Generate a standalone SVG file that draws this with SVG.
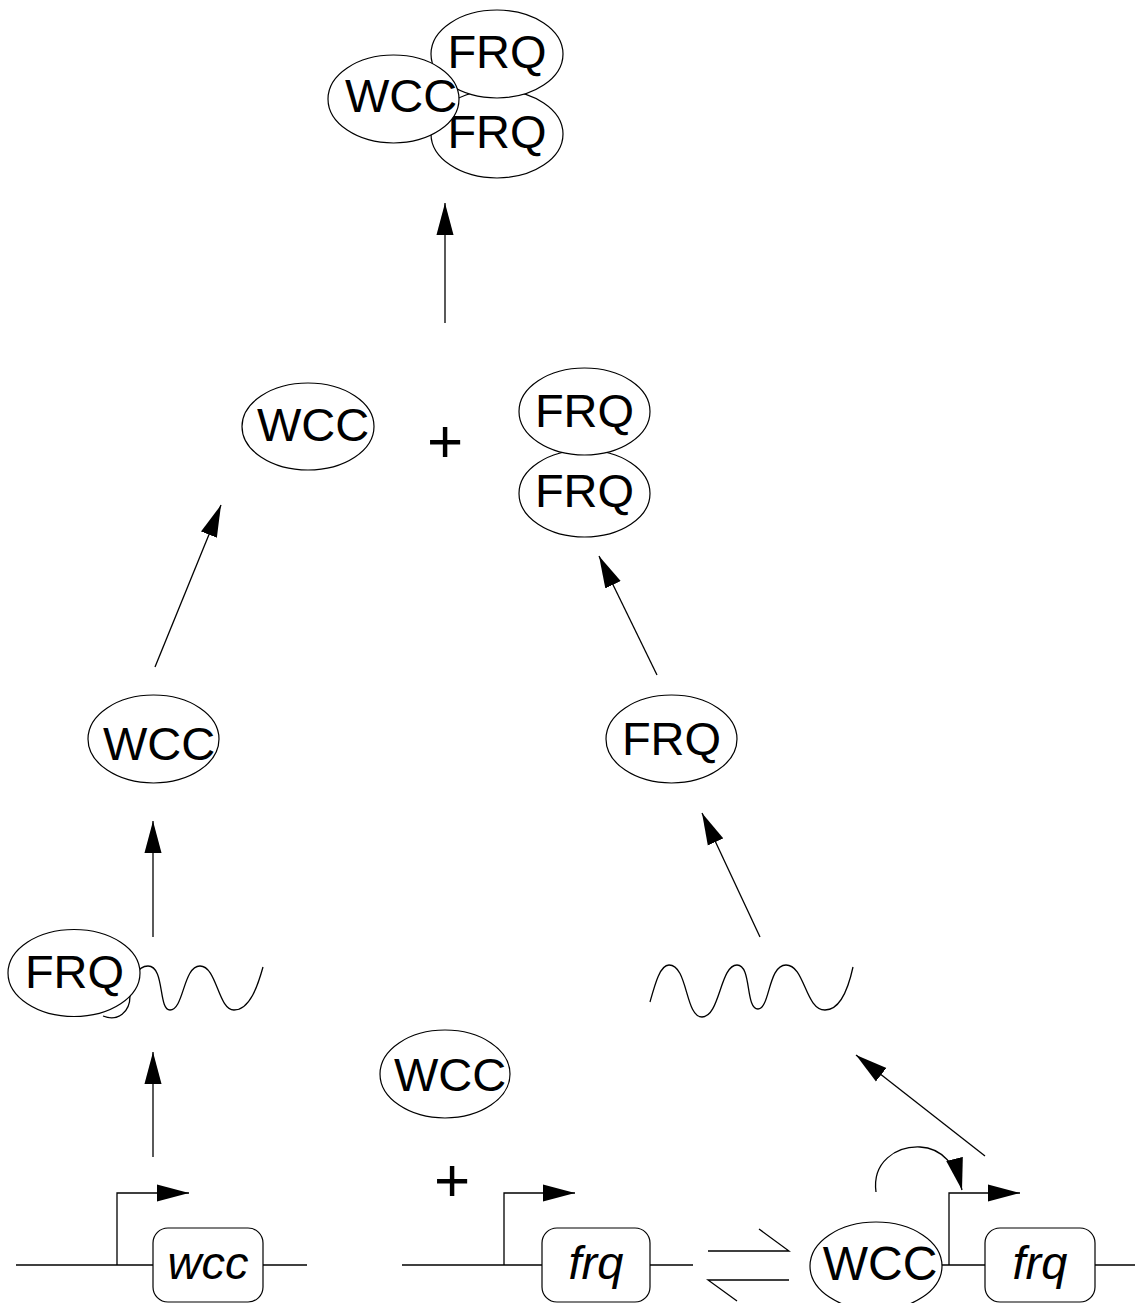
<svg xmlns="http://www.w3.org/2000/svg" width="1135" height="1303" viewBox="0 0 1135 1303">
<style>
.e{fill:#fff;stroke:#000;stroke-width:1.2}
.t{font-family:"Liberation Sans",Arial,sans-serif;font-size:47px;fill:#000;text-anchor:middle}
.p{font-family:"Liberation Sans",Arial,sans-serif;font-size:62px;fill:#000;text-anchor:middle}
.g{font-family:"Liberation Sans",Arial,sans-serif;font-size:47px;font-style:italic;fill:#000;text-anchor:middle}
.l{fill:none;stroke:#000;stroke-width:1.3}
.a{fill:none;stroke:#000;stroke-width:1.3;marker-end:url(#ah)}
.b{fill:#fff;stroke:#000;stroke-width:1.2}
</style>
<defs>
<marker id="ah" markerUnits="userSpaceOnUse" markerWidth="32" markerHeight="18" viewBox="0 0 30 16" refX="30" refY="8" orient="auto">
<path d="M0,0 L30,8 L0,16 z" fill="#000"/>
</marker>
</defs>
<rect width="1135" height="1303" fill="#fff"/>

<g id="connectors">
<line class="a" x1="445" y1="323" x2="445" y2="203"/>
<line class="a" x1="155" y1="667" x2="221" y2="505"/>
<line class="a" x1="657" y1="675" x2="599" y2="556"/>
<line class="a" x1="153" y1="937" x2="153" y2="821"/>
<line class="a" x1="760" y1="937" x2="702" y2="813"/>
<line class="a" x1="153" y1="1157" x2="153" y2="1052"/>
<line class="a" x1="985" y1="1156" x2="856" y2="1055"/>
<path class="a" d="M876,1192 C872,1162 896,1146 920,1147 C942,1148 956,1165 962,1190"/>
<g id="equilibrium">
<polyline class="l" points="708,1251 789,1251 759,1229"/>
<polyline class="l" points="789,1280 708,1280 737,1301"/>
</g>
</g>

<g id="complex-top">
<ellipse class="e" cx="497" cy="134" rx="66" ry="44"/>
<text class="t" x="497" y="148">FRQ</text>
<ellipse class="e" cx="497" cy="54" rx="66" ry="44"/>
<text class="t" x="497" y="68">FRQ</text>
<ellipse class="e" cx="393.5" cy="99" rx="65.5" ry="44"/>
<text class="t" x="401" y="112">WCC</text>
</g>

<g id="wcc-mid">
<ellipse class="e" cx="308" cy="426.5" rx="66" ry="43.5"/>
<text class="t" x="313" y="441">WCC</text>
</g>

<g id="plus-mid"><text class="p" x="445" y="462">+</text></g>

<g id="frq-dimer">
<ellipse class="e" cx="584.5" cy="493.5" rx="65.5" ry="43.5"/>
<text class="t" x="584.5" y="507">FRQ</text>
<ellipse class="e" cx="584.5" cy="411.5" rx="65.5" ry="43.5"/>
<text class="t" x="584.5" y="427">FRQ</text>
</g>

<g id="wcc-left">
<ellipse class="e" cx="153.5" cy="739" rx="65.5" ry="44"/>
<text class="t" x="159" y="760">WCC</text>
</g>

<g id="frq-right">
<ellipse class="e" cx="671.5" cy="739" rx="65.5" ry="44"/>
<text class="t" x="671.5" y="755">FRQ</text>
</g>

<g id="wcc-mrna">
<path class="l" d="M103,1016 C118,1022 130,1012 130,996 C131,978 138,966 148,966 C165,966 158,1010 170,1010 C184,1010 183,966 200,966 C217,966 218,1010 234,1010 C250,1010 258,985 263,967"/>
<ellipse class="e" cx="74" cy="973" rx="66" ry="43.5"/>
<text class="t" x="74.5" y="988">FRQ</text>
</g>

<g id="frq-mrna">
<path class="l" d="M650,1002 C655,984 660,965 669,965 C688,965 685,1017 702,1017 C720,1017 720,965 737,965 C752,965 745,1009 758,1009 C770,1009 768,965 786,965 C805,965 805,1010 825,1010 C840,1010 848,990 853,967"/>
</g>

<g id="wcc-free">
<ellipse class="e" cx="445" cy="1074" rx="65" ry="44"/>
<text class="t" x="450" y="1091">WCC</text>
</g>

<g id="plus-bottom"><text class="p" x="452" y="1201">+</text></g>

<g id="wcc-gene">
<line class="l" x1="16" y1="1265" x2="307" y2="1265"/>
<polyline class="a" points="117,1265 117,1193 189,1193"/>
<rect class="b" x="153" y="1228" width="110" height="74" rx="15"/>
<text class="g" x="208" y="1279">wcc</text>
</g>

<g id="frq-gene">
<line class="l" x1="402" y1="1265" x2="693" y2="1265"/>
<polyline class="a" points="504,1265 504,1193 575,1193"/>
<rect class="b" x="542" y="1228" width="108" height="74" rx="15"/>
<text class="g" x="596" y="1279">frq</text>
</g>

<g id="frq-gene-bound">
<line class="l" x1="940" y1="1265" x2="1135" y2="1265"/>
<polyline class="a" points="949,1265 949,1193 1020,1193"/>
<rect class="b" x="985" y="1228" width="110" height="74" rx="15"/>
<text class="g" x="1040" y="1279">frq</text>
<ellipse class="e" cx="876" cy="1266" rx="66" ry="44"/>
<text class="t" x="880" y="1280" style="font-size:48px">WCC</text>
</g>
</svg>
